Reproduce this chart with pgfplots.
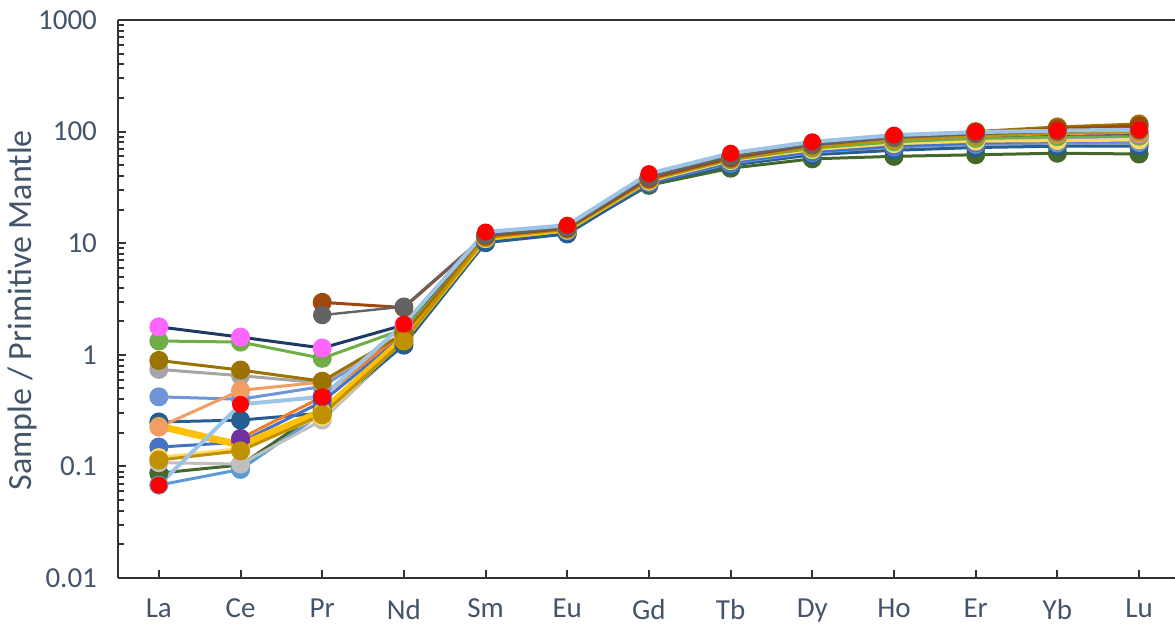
\documentclass[border=0pt]{standalone}
\usepackage{pgfplots}
\pgfplotsset{compat=1.18}
\usepackage{fontspec}
\setmainfont{Carlito}
\definecolor{txt}{HTML}{44546A}
\definecolor{axc}{HTML}{333333}
\definecolor{cpink}{HTML}{FF66FF}
\definecolor{cnavy}{HTML}{1F3864}
\definecolor{cgreen}{HTML}{70AD47}
\definecolor{cbgold}{HTML}{9A7300}
\definecolor{cgray}{HTML}{A5A5A5}
\definecolor{cmblue}{HTML}{6F95D8}
\definecolor{cdblue}{HTML}{255E91}
\definecolor{corange}{HTML}{F29E62}
\definecolor{cpurple}{HTML}{7030A0}
\definecolor{corline}{HTML}{ED7D31}
\definecolor{cblue}{HTML}{4472C4}
\definecolor{cyellow}{HTML}{FFC000}
\definecolor{clyellow}{HTML}{FFD966}
\definecolor{cdgold}{HTML}{BF9000}
\definecolor{clgray}{HTML}{BFBFBF}
\definecolor{cdgreen}{HTML}{43682B}
\definecolor{csblue}{HTML}{5B9BD5}
\definecolor{clblue}{HTML}{9DC3E6}
\definecolor{cred}{HTML}{FF0000}
\definecolor{cbrown}{HTML}{9E480E}
\definecolor{cdgray}{HTML}{636363}
\begin{document}
\begin{tikzpicture}
\begin{axis}[
  name=ax,
  scale only axis,
  width=528.5pt, height=279pt,
  xmin=-0.5, xmax=12.44,
  ymode=log, ymin=0.01, ymax=1000,
  axis lines=left,
  axis line style={-, axc, line width=1.2pt},
  tick style={axc, line width=1pt},
  tick align=inside,
  major tick length=4pt,
  minor tick length=3pt,
  xtick={0,...,12},
  xticklabels={La,Ce,Pr,Nd,Sm,Eu,Gd,Tb,Dy,Ho,Er,Yb,Lu},
  ytick={0.01,0.1,1,10,100,1000},
  yticklabels={0.01,0.1,1,10,100,1000},
  ticklabel style={font=\fontsize{14.5}{16}\selectfont, text=txt},
  yticklabel style={xshift=-7pt},
  xticklabel style={yshift=-7pt},
  every axis y label/.style={at={(axis description cs:-0.09,0.48)}, rotate=90, anchor=center},
  ylabel={Sample / Primitive Mantle},
  ylabel style={font=\fontsize{17}{19}\selectfont, text=txt},
  clip=false,
  every axis plot/.append style={line width=1.5pt, mark=*, mark size=4pt},
]
\draw[axc, line width=1.2pt] (rel axis cs:0,1) -- (rel axis cs:1,1);
% dark green
\addplot[cdgreen, mark options={fill=cdgreen}] coordinates {(0,0.087)(1,0.103)(2,0.32)(3,1.35)(4,10.6)(5,12.5)(6,33)(7,47)(8,57)(9,60)(10,62)(11,64)(12,63)};
% small blue
\addplot[csblue, mark options={fill=csblue}] coordinates {(0,0.068)(1,0.094)(2,0.30)(3,1.4)(4,11)(5,13)(6,35)(7,52)(8,64)(9,71)(10,75)(11,77)(12,78)};
% light gray
\addplot[clgray, mark options={fill=clgray}] coordinates {(0,0.108)(1,0.105)(2,0.26)(3,1.28)(4,10.6)(5,12.6)(6,34)(7,51)(8,63)(9,71)(10,75)(11,77)(12,78)};
% dark blue
\addplot[cdblue, mark options={fill=cdblue}] coordinates {(0,0.25)(1,0.26)(2,0.30)(3,1.22)(4,10.1)(5,12.1)(6,34)(7,50)(8,62)(9,68)(10,72)(11,74)(12,74)};
% medium blue
\addplot[cmblue, mark options={fill=cmblue}] coordinates {(0,0.42)(1,0.40)(2,0.52)(3,1.5)(4,11)(5,13)(6,35)(7,52)(8,65)(9,73)(10,77)(11,79)(12,80)};
% blue
\addplot[cblue, mark options={fill=cblue}] coordinates {(0,0.149)(1,0.165)(2,0.38)(3,1.5)(4,11)(5,13)(6,35)(7,53)(8,66)(9,74)(10,79)(11,82)(12,83)};
% gray
\addplot[cgray, mark options={fill=cgray}] coordinates {(0,0.74)(1,0.65)(2,0.56)(3,1.5)(4,11)(5,13)(6,36)(7,55)(8,69)(9,78)(10,84)(11,88)(12,90)};
% light yellow
\addplot[clyellow, mark options={fill=clyellow}] coordinates {(0,0.12)(1,0.145)(2,0.28)(3,1.35)(4,11)(5,13.2)(6,36)(7,55)(8,69)(9,78)(10,82)(11,83)(12,84)};
% thick yellow
\addplot[cyellow, line width=3.5pt, mark options={fill=cyellow, line width=1pt}] coordinates {(0,0.23)(1,0.155)(2,0.31)(3,1.4)(4,11.3)(5,13.5)(6,38)(7,60)(8,77)(9,89)(10,95)(11,98)(12,99)};
% purple with orange line
\addplot[corline, mark options={fill=cpurple, draw=cpurple}] coordinates {(1,0.178)(2,0.42)(3,1.6)(4,11.5)(5,13.5)(6,37)(7,57)(8,72)(9,83)(10,88)(11,91)(12,92)};
% green
\addplot[cgreen, mark options={fill=cgreen}] coordinates {(0,1.33)(1,1.30)(2,0.93)(3,1.7)(4,11.3)(5,13.3)(6,37)(7,56)(8,71)(9,81)(10,87)(11,90)(12,91)};
% navy with pink
\addplot[cnavy, mark options={fill=cpink, draw=cpink}] coordinates {(0,1.78)(1,1.44)(2,1.15)(3,1.85)(4,11.8)(5,13.8)(6,39)(7,59)(8,75)(9,86)(10,92)(11,95)(12,96)};
% orange
\addplot[corange, mark options={fill=corange}] coordinates {(0,0.225)(1,0.48)(2,0.57)(3,1.55)(4,11.6)(5,13.6)(6,38)(7,58)(8,74)(9,85)(10,92)(11,96)(12,98)};
% brown-gold
\addplot[cbgold, mark options={fill=cbgold}] coordinates {(0,0.89)(1,0.73)(2,0.58)(3,1.55)(4,11.5)(5,13.6)(6,38)(7,59)(8,77)(9,90)(10,100)(11,110)(12,117)};
% dark gold
\addplot[cdgold, mark options={fill=cdgold}] coordinates {(0,0.114)(1,0.138)(2,0.29)(3,1.33)(4,11.2)(5,13.4)(6,37)(7,57)(8,73)(9,85)(10,92)(11,97)(12,100)};
% brown
\addplot[cbrown, mark options={fill=cbrown}] coordinates {(2,2.95)(3,2.65)(4,11.6)(5,13.6)(6,38)(7,58)(8,76)(9,89)(10,98)(11,106)(12,112)};
% dark gray
\addplot[cdgray, line width=1.2pt, mark options={fill=cdgray}] coordinates {(2,2.27)(3,2.7)(4,11.8)(5,13.8)(6,39)(7,60)(8,76)(9,88)(10,95)(11,100)(12,103)};
% light blue with red markers
\addplot[clblue, line width=2pt, mark options={fill=cred, draw=cred, line width=0.5pt}] coordinates {(0,0.068)(1,0.36)(2,0.42)(3,1.88)(4,12.6)(5,14.5)(6,42)(7,64)(8,81)(9,93)(10,99)(11,102)(12,104)};
\end{axis}
\pgfresetboundingbox
\path ([xshift=-59pt,yshift=-23.5pt]ax.south west) rectangle ([yshift=10pt]ax.north east);
\end{tikzpicture}
\end{document}
